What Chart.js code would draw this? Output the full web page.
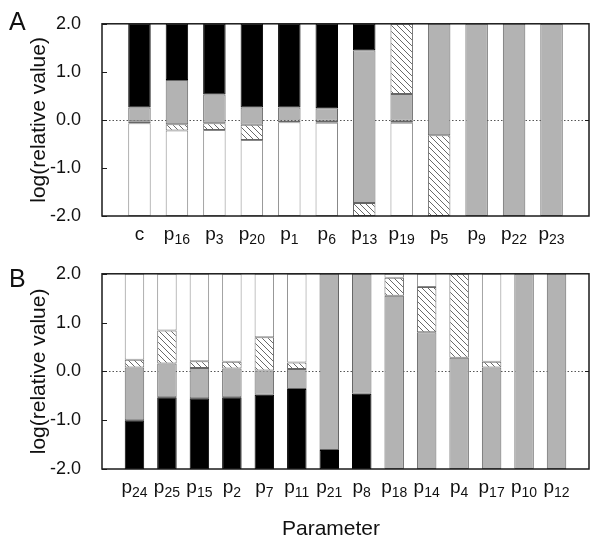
<!DOCTYPE html>
<html>
<head>
<meta charset="utf-8">
<script src="https://cdn.jsdelivr.net/npm/chart.js@4"></script>
<style>
  body { margin: 0; background: #fff; }
  canvas { display: block; }
</style>
</head>
<body>
<canvas id="grafico-a" width="600" height="250"></canvas>
<canvas id="grafico-b" width="600" height="292"></canvas>
<script>
const fonte = '"Liberation Sans", Arial, Helvetica, sans-serif';

// painel A
const rotulosA = ['c', 'p16', 'p3', 'p20', 'p1', 'p6', 'p13', 'p19', 'p5', 'p9', 'p22', 'p23'];
const pretoA = [[0.26, 2], [0.83, 2], [0.53, 2], [0.26, 2], [0.26, 2], [0.24, 2], [1.45, 2], null, null, null, null, null];
const cinzaA = [[-0.03, 0.26], [-0.09, 0.83], [-0.07, 0.53], [-0.10, 0.26], [-0.01, 0.26], [-0.02, 0.24], [-1.73, 1.45], [-0.02, 0.54], [-0.32, 2], [-2, 2], [-2, 2], [-2, 2]];
const hachuraA = [[-0.07, -0.03], [-0.22, -0.09], [-0.21, -0.07], [-0.42, -0.10], [-0.05, -0.01], [-0.06, -0.02], [-2, -1.73], [-0.06, -0.02], [-2, -0.32], null, null, null];
const hachuraTopoA = [null, null, null, null, null, null, null, [0.54, 2], null, null, null, null];
const brancoA = [[-2, -0.07], [-2, -0.22], [-2, -0.21], [-2, -0.42], [-2, -0.05], [-2, -0.06], null, [-2, -0.06], null, null, null, null];

// painel B
const rotulosB = ['p24', 'p25', 'p15', 'p2', 'p7', 'p11', 'p21', 'p8', 'p18', 'p14', 'p4', 'p17', 'p10', 'p12'];
const pretoB = [[-2, -1.0], [-2, -0.53], [-2, -0.55], [-2, -0.53], [-2, -0.48], [-2, -0.36], [-2, -1.61], [-2, -0.46], null, null, null, null, null, null];
const cinzaB = [[-1.0, 0.08], [-0.53, 0.16], [-0.55, 0.07], [-0.53, 0.06], [-0.48, 0.02], [-0.36, 0.05], [-1.61, 2], [-0.46, 2], [-2, 1.55], [-2, 0.80], [-2, 0.28], [-2, 0.08], [-2, 2], [-2, 2]];
const hachuraB = [[0.08, 0.24], [0.16, 0.84], [0.07, 0.21], [0.06, 0.20], [0.02, 0.70], [0.05, 0.18], null, null, [1.55, 1.92], [0.80, 1.73], [0.28, 2], [0.08, 0.20], null, null];
const brancoB = [[0.24, 2], [0.84, 2], [0.21, 2], [0.20, 2], [0.70, 2], [0.18, 2], null, null, [1.92, 2], [1.73, 2], null, [0.20, 2], null, null];

function hachura() {
  const c = document.createElement('canvas');
  c.width = 6; c.height = 6;
  const g = c.getContext('2d');
  g.fillStyle = '#fff';
  g.fillRect(0, 0, 6, 6);
  g.strokeStyle = '#444';
  g.lineWidth = 0.8;
  g.beginPath();
  g.moveTo(-1, -1); g.lineTo(7, 7);
  g.moveTo(-1, 5); g.lineTo(1, 7);
  g.moveTo(5, -1); g.lineTo(7, 1);
  g.stroke();
  return g.createPattern(c, 'repeat');
}
const padrao = hachura();

function serie(valores, cor, borda) {
  return {
    data: valores.map((v, i) => v ? { x: i + 1, y: v } : null).filter(v => v),
    backgroundColor: cor,
    borderColor: borda,
    borderWidth: 1,
    borderSkipped: false,
    grouped: false,
    barPercentage: 0.6,
    categoryPercentage: 1
  };
}

const extras = {
  id: 'extras',
  beforeDatasetsDraw(chart) {
    const { ctx, chartArea: a, scales } = chart;
    const y0 = scales.y.getPixelForValue(0);
    ctx.save();
    ctx.strokeStyle = '#555';
    ctx.lineWidth = 1;
    ctx.setLineDash([1.5, 2]);
    ctx.beginPath();
    ctx.moveTo(a.left, Math.round(y0) + 0.5);
    ctx.lineTo(a.right, Math.round(y0) + 0.5);
    ctx.stroke();
    ctx.restore();
  },
  afterDraw(chart, args, o) {
    const { ctx, chartArea: a, scales } = chart;
    ctx.save();
    ctx.strokeStyle = '#1a1a1a';
    ctx.lineWidth = 1.5;
    ctx.strokeRect(a.left, a.top, a.right - a.left, a.bottom - a.top);

    ctx.lineWidth = 1;
    scales.y.ticks.forEach(t => {
      const y = Math.round(scales.y.getPixelForValue(t.value)) + 0.5;
      ctx.beginPath();
      ctx.moveTo(a.left, y);
      ctx.lineTo(a.left + 5, y);
      ctx.stroke();
    });
    const y0 = Math.round(scales.y.getPixelForValue(0)) + 0.5;
    ctx.beginPath();
    ctx.moveTo(a.right - 4, y0);
    ctx.lineTo(a.right, y0);
    ctx.stroke();

    ctx.fillStyle = '#111';
    ctx.textBaseline = 'alphabetic';
    ctx.textAlign = 'left';
    o.rotulos.forEach((r, i) => {
      const x = scales.x.getPixelForValue(i + 1);
      const base = r[0], sub = r.slice(1);
      ctx.font = '19px ' + fonte;
      const w1 = ctx.measureText(base).width;
      ctx.font = '14px ' + fonte;
      const w2 = sub ? ctx.measureText(sub).width : 0;
      const x0 = x - (w1 + w2) / 2;
      const y = a.bottom + 24;
      ctx.font = '19px ' + fonte;
      ctx.fillText(base, x0, y);
      if (sub) {
        ctx.font = '14px ' + fonte;
        ctx.fillText(sub, x0 + w1, y + 4);
      }
    });

    ctx.font = '25px ' + fonte;
    ctx.fillText(o.letra, 9, o.letraY);

    if (o.tituloX) {
      ctx.font = '21px ' + fonte;
      ctx.textAlign = 'center';
      ctx.fillText(o.tituloX, 331, o.tituloY);
    }
    ctx.restore();
  }
};

function painel(id, rotulos, series, padding, extrasOpts) {
  return new Chart(document.getElementById(id), {
    type: 'bar',
    data: { datasets: series },
    options: {
      responsive: false,
      animation: false,
      layout: { padding },
      plugins: {
        legend: { display: false },
        tooltip: { enabled: false },
        extras: Object.assign({ rotulos }, extrasOpts)
      },
      scales: {
        x: { type: 'linear', min: 0, max: rotulos.length + 1, offset: false, display: false },
        y: {
          min: -2, max: 2,
          afterFit: s => { s.width = 102; },
          grid: { display: false },
          border: { display: false },
          ticks: {
            stepSize: 1, padding: 13, color: '#111',
            font: { size: 18, family: fonte },
            callback: v => v.toFixed(1)
          },
          title: {
            display: true, text: 'log(relative value)', color: '#111',
            font: { size: 21, family: fonte },
            padding: { top: 27, bottom: 0 }
          }
        }
      }
    },
    plugins: [extras]
  });
}

painel('grafico-a', rotulosA, [
  serie(pretoA, '#000', '#000'),
  serie(cinzaA, '#b3b3b3', '#666'),
  serie(hachuraA, padrao, '#666'),
  serie(hachuraTopoA, padrao, '#666'),
  serie(brancoA, '#fff', '#888')
], { top: 16, right: 11, bottom: 34, left: 0 }, { letra: 'A', letraY: 30 });

painel('grafico-b', rotulosB, [
  serie(pretoB, '#000', '#000'),
  serie(cinzaB, '#b3b3b3', '#666'),
  serie(hachuraB, padrao, '#666'),
  serie(brancoB, '#fff', '#888')
], { top: 20, right: 11, bottom: 73, left: 0 }, { letra: 'B', letraY: 37, tituloX: 'Parameter', tituloY: 285 });
</script>
</body>
</html>
